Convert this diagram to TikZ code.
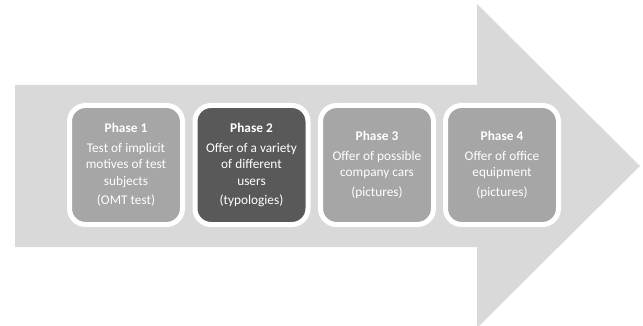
\documentclass[tikz,border=0pt]{standalone}
\usepackage{fontspec}
\setmainfont{Carlito}
\definecolor{arrowgray}{HTML}{D9D9D9}
\definecolor{boxgray}{HTML}{A6A6A6}
\definecolor{boxdark}{HTML}{595959}
\tikzset{
  phasebox/.style={draw=white, line width=5pt, fill=boxgray, rounded corners=16pt,
    minimum width=113pt, minimum height=119pt, inner sep=0pt, text=white, align=center,
    font=\fontsize{13.3}{16.5}\selectfont},
  darkbox/.style={phasebox, fill=boxdark}
}
\begin{document}
\begin{tikzpicture}[x=1pt,y=-1pt]
\useasboundingbox (0,0) rectangle (643,326);
\fill[arrowgray] (15,85) -- (477,85) -- (477,4) -- (640,166) -- (477,328) -- (477,247) -- (15,247) -- cycle;
\node[phasebox] (p1) at (126,165) {\textbf{Phase 1}\\[3pt]Test of implicit\\motives of test\\subjects\\[3pt](OMT test)};
\node[darkbox] (p2) at (251.5,165) {\textbf{Phase 2}\\[3pt]Offer of a variety\\of different\\users\\[3pt](typologies)};
\node[phasebox] (p3) at (377,165) {\textbf{Phase 3}\\[3pt]Offer of possible\\company cars\\[3pt](pictures)};
\node[phasebox] (p4) at (502,165) {\textbf{Phase 4}\\[3pt]Offer of office\\equipment\\[3pt](pictures)};
\end{tikzpicture}
\end{document}
